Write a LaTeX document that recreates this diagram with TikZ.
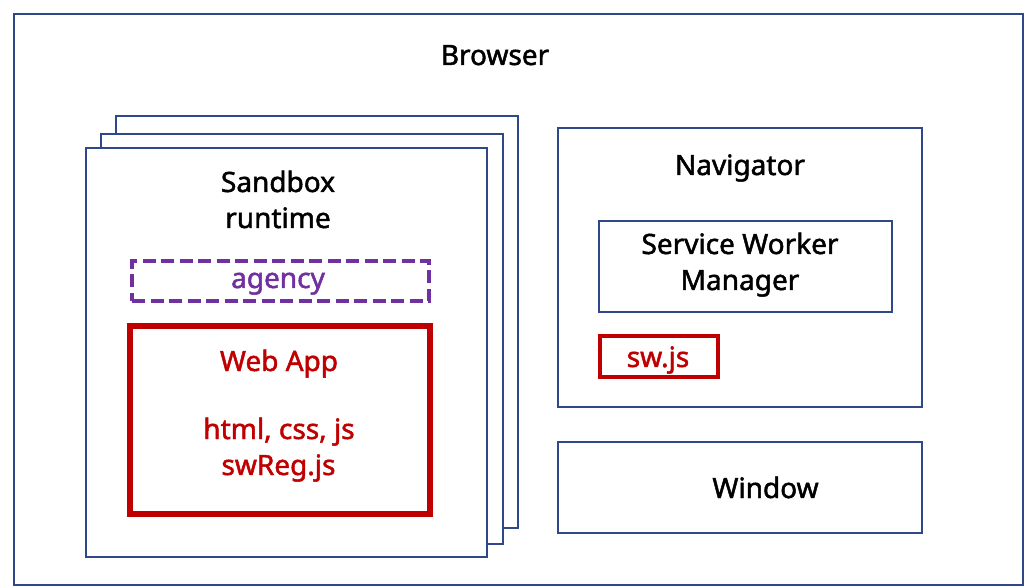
\documentclass[tikz,border=0pt]{standalone}
\usepackage{fontspec}
\setmainfont{Noto Sans}[FakeBold=1.7]
\definecolor{navy}{RGB}{47,72,138}
\definecolor{webred}{RGB}{192,0,0}
\definecolor{agpurple}{RGB}{112,48,160}
\begin{document}
\begin{tikzpicture}[x=1pt,y=-1pt,
  bluebox/.style={draw=navy,line width=2.7pt,fill=white,inner sep=0pt},
  redbox/.style={draw=webred,inner sep=0pt},
  agbox/.style={draw=agpurple,line width=4.5pt,dash pattern=on 13pt off 5.5pt,inner sep=0pt},
  lbl/.style={inner sep=0pt,anchor=base,font=\fontsize{28}{34}\selectfont},
  redlbl/.style={lbl,text=webred},
]
\useasboundingbox[fill=white] (0,0) rectangle (1029,588);
% Browser
\node[bluebox,minimum width=1009pt,minimum height=571pt] (browser) at (518.5,299.5) {};
\node[lbl] (browsertxt) at (495,65) {Browser};
% Sandbox stack
\node[bluebox,minimum width=402pt,minimum height=412pt] (sb3) at (317,322) {};
\node[bluebox,minimum width=402pt,minimum height=410pt] (sb2) at (302,339) {};
\node[bluebox,minimum width=401pt,minimum height=409pt] (sb1) at (286.5,352.5) {};
\node[lbl] (sbt1) at (278,192) {Sandbox};
\node[lbl] (sbt2) at (278,228) {runtime};
% agency
\node[agbox,minimum width=297pt,minimum height=40pt] (agency) at (280.5,281) {};
\node[lbl,text=agpurple] (agencytxt) at (278,288) {agency};
% Web App
\node[redbox,line width=6.5pt,minimum width=300pt,minimum height=188pt] (webapp) at (280,420) {};
\node[redlbl] (wa1) at (279,371) {Web App};
\node[redlbl] (wa2) at (279,439) {html, css, js};
\node[redlbl] (wa3) at (278.5,475) {swReg.js};
% Navigator
\node[bluebox,minimum width=364pt,minimum height=279pt] (nav) at (740,267.5) {};
\node[lbl] (navtxt) at (740,175) {Navigator};
\node[bluebox,minimum width=293pt,minimum height=91pt] (swm) at (745.5,266.5) {};
\node[lbl] (swm1) at (740,254) {Service Worker};
\node[lbl] (swm2) at (740,290) {Manager};
\node[redbox,line width=4.5pt,minimum width=118pt,minimum height=41pt] (swjs) at (659,356.5) {};
\node[redlbl] (swjstxt) at (658,367) {sw.js};
% Window
\node[bluebox,minimum width=364pt,minimum height=91pt] (window) at (740,487.5) {};
\node[lbl] (windowtxt) at (765.5,498) {Window};
\end{tikzpicture}
\end{document}
